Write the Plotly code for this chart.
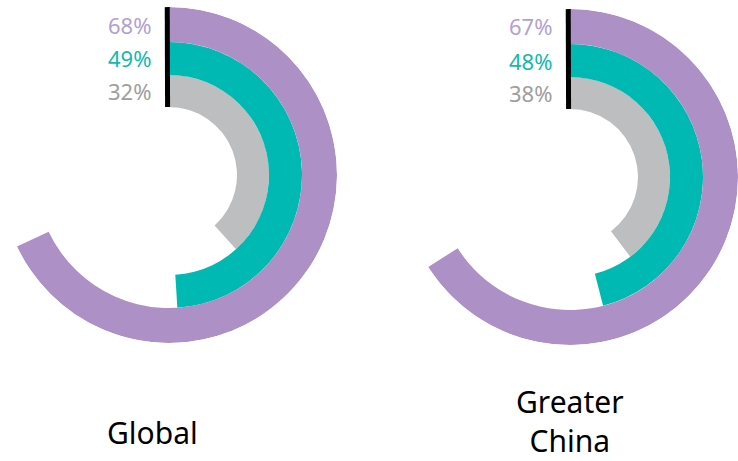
import plotly.graph_objects as go

regions = ["Global", "Greater<br>China"]
series = ["gray", "teal", "purple"]          # inner -> outer
# printed labels
global_values = [32, 49, 68]
china_values = [38, 48, 67]
# arc extents as drawn in the picture (% of full circle)
global_arcs = [38.3, 49, 68]
china_arcs = [39.7, 46, 66]
ring_edges = [68, 100, 133, 168]             # radial edges, inner -> outer

bar_colors = {"gray": "#bdbec0", "teal": "#00b9b2", "purple": "#ad91c6"}
text_colors = {"gray": "#9e9e9e", "teal": "#14b8b1", "purple": "#b39fd2"}

W, H = 738, 461
centers = [(169, 175), (570, 177)]           # px, from top-left
R = ring_edges[-1]

fig = go.Figure()
annotations = []

for i, (values, arcs) in enumerate([(global_values, global_arcs),
                                    (china_values, china_arcs)]):
    sub = "polar" if i == 0 else "polar2"
    # black start marker
    fig.add_trace(go.Scatterpolar(
        r=[ring_edges[0], ring_edges[-1]], theta=[-1.2, -0.6],
        mode="lines", line=dict(color="black", width=5),
        hoverinfo="skip", showlegend=False, subplot=sub))
    for j, s in enumerate(series):
        v, a = values[j], arcs[j]
        fig.add_trace(go.Barpolar(
            r=[ring_edges[j + 1] - ring_edges[j]],
            base=[ring_edges[j]],
            theta=[a * 3.6 / 2],
            width=[a * 3.6],
            marker=dict(color=bar_colors[s], line=dict(width=0)),
            name=s, showlegend=False, subplot=sub,
            hovertemplate=f"{v}%<extra></extra>"))
        cx, cy = centers[i]
        rmid = (ring_edges[j] + ring_edges[j + 1]) / 2
        annotations.append(dict(
            x=cx / W, y=(H - cy + rmid) / H, xref="paper", yref="paper",
            text=f"{v}%", showarrow=False, xanchor="right", yanchor="middle",
            xshift=-16, font=dict(size=22, color=text_colors[s])))

layout_polars = {}
for i, (cx, cy) in enumerate(centers):
    key = "polar" if i == 0 else "polar2"
    layout_polars[key] = dict(
        domain=dict(x=[max(0, (cx - R) / W), min(1, (cx + R) / W)],
                    y=[(H - cy - R) / H, (H - cy + R) / H]),
        bgcolor="white",
        radialaxis=dict(range=[0, R], visible=False),
        angularaxis=dict(rotation=90, direction="clockwise", visible=False),
        barmode="overlay")

title_pos = [(152, 432), (570, 421)]
for name, (tx, ty) in zip(regions, title_pos):
    annotations.append(dict(
        x=tx / W, y=(H - ty) / H, xref="paper", yref="paper", text=name,
        showarrow=False, xanchor="center", yanchor="middle", borderpad=0,
        font=dict(size=30, color="black")))

fig.update_layout(
    width=W, height=H,
    margin=dict(l=0, r=0, t=0, b=0),
    paper_bgcolor="white",
    font=dict(family="Noto Sans"),
    annotations=annotations,
    **layout_polars)

fig.write_html("out.html", config={"displayModeBar": False},
               post_script="document.body.style.margin='0';document.body.style.overflow='hidden';")
